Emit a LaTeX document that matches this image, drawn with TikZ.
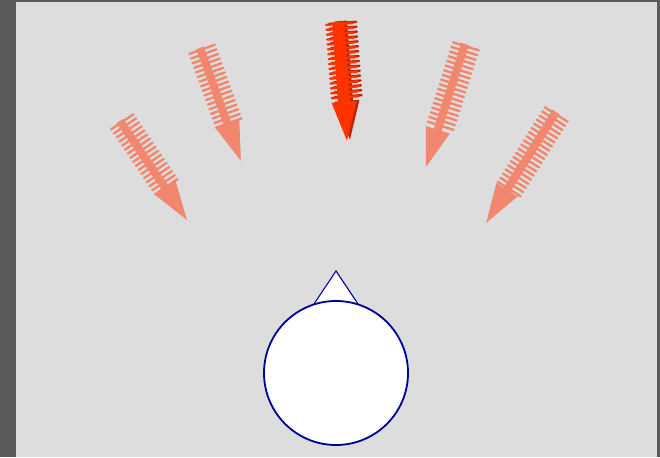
\documentclass[tikz,border=0pt]{standalone}
\usetikzlibrary{calc}
\definecolor{frame}{HTML}{5B5B5B}
\definecolor{canvas}{HTML}{DDDDDD}
\definecolor{salmon}{HTML}{F0876E}
\definecolor{hotred}{HTML}{FF3300}
\definecolor{darkred}{HTML}{C42200}
\definecolor{navyline}{HTML}{000099}
\tikzset{
  bristle/.style={line width=2.4pt, line cap=round},
}
\newcommand\featharrow[6]{% x y angle length color shaftwidth
 \begin{scope}[shift={(#1,#2)}, rotate=#3]
   \pgfmathsetmacro\shl{#4-39}
   \fill[#5] (\shl,-12.5) -- (#4,0) -- (\shl,12.5) -- cycle;
   \draw[#5, line width=#6] (0,0) -- (\shl+1,0);
   \foreach \t in {2,6.9,...,\shl} \draw[#5, bristle] (\t,-12) -- (\t,15);
 \end{scope}}
\begin{document}
\begin{tikzpicture}[x=1pt,y=1pt]
\useasboundingbox (0,0) rectangle (660,457);
\fill[frame] (0,0) rectangle (660,457);
\fill[canvas] (16,0) rectangle (657,455);
% arrows
\featharrow{120}{336}{-55.9}{119.5}{salmon}{8pt}
\featharrow{200}{409}{-70.1}{120}{salmon}{8pt}
\featharrow{341}{436}{-85.7}{119}{darkred}{12pt}
\featharrow{338}{435}{-85.7}{119}{hotred}{12pt}
\featharrow{465}{413}{-107.6}{129}{salmon}{8pt}
\featharrow{556}{345}{-122.2}{131}{salmon}{8pt}
% ball with spike
\coordinate (apex) at (336,186);
\coordinate (bl) at (312,150);
\coordinate (br) at (360,150);
\filldraw[fill=white, draw=navyline, line width=1.1pt] (bl) -- (apex) -- (br) -- cycle;
\node[circle, draw=navyline, fill=white, line width=1.8pt, minimum size=144pt, inner sep=0pt] (ball) at (336,84) {};
\end{tikzpicture}
\end{document}
